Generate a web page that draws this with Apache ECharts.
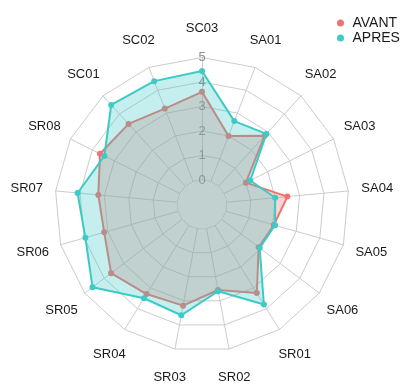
<!DOCTYPE html>
<html>
<head>
<meta charset="utf-8">
<script src="https://cdn.jsdelivr.net/npm/echarts@6/dist/echarts.min.js"></script>
<style>
  html, body { margin: 0; padding: 0; background: #fff; }
  #chart { width: 409px; height: 385px; }
</style>
</head>
<body>
<div id="chart"></div>
<script>
// Axes, listed clockwise starting from the top
const categories = ['SC03', 'SA01', 'SA02', 'SA03', 'SA04', 'SA05', 'SA06', 'SR01', 'SR02',
                    'SR03', 'SR04', 'SR05', 'SR06', 'SR07', 'SR08', 'SC01', 'SC02'];
// Mean scores per axis, same order as categories
const avant = [3.6, 2.0, 2.8, 1.0, 2.5, 2.05, 1.9, 3.25, 2.55, 3.2, 3.3, 3.65, 3.15, 3.25, 3.65, 3.45, 3.2];
const apres = [4.45, 2.65, 2.9, 1.2, 2.0, 2.1, 1.95, 3.8, 2.6, 3.6, 3.5, 4.6, 3.95, 4.1, 3.45, 4.5, 4.4];
const tickLabels = ['0', '1', '2', '3', '4', '5'];
const seriesNames = ['AVANT', 'APRES'];

const RED = '#F0736E';
const CYAN = '#3CCBC6';
const GRID = '#CCCCCC';
const FONT = '"Liberation Sans", Arial, sans-serif';
const center = [202, 204.5];
const radius = 147;

// ECharts lays radar indicators out counter-clockwise; reorder so they run clockwise.
const clockwise = a => [a[0]].concat(a.slice(1).reverse());
const cats = clockwise(categories);
const indicators = cats.map(n => ({ name: n, min: -1, max: 5 }));

const chart = echarts.init(document.getElementById('chart'), null, { renderer: 'canvas' });

chart.setOption({
  animation: false,
  backgroundColor: '#fff',
  legend: {
    data: seriesNames,
    orient: 'vertical',
    left: 337,
    top: 16,
    padding: 0,
    itemGap: 1,
    icon: 'circle',
    itemWidth: 14,
    itemHeight: 7,
    textStyle: { fontSize: 14, color: '#1a1a1a', fontFamily: FONT }
  },
  radar: [
    { // polygon grid, spokes and axis names
      center: center,
      radius: radius,
      startAngle: 90,
      shape: 'polygon',
      splitNumber: 6,
      indicator: indicators,
      z: 0,
      nameGap: 29,
      axisName: { color: '#1a1a1a', fontSize: 13, fontFamily: FONT, align: 'center', verticalAlign: 'middle' },
      splitLine: { lineStyle: { color: GRID, width: 1 } },
      splitArea: { show: false },
      axisLine: { lineStyle: { color: GRID, width: 1 } },
      axisTick: { show: false },
      axisLabel: { show: false }
    },
    { // scale labels along the top axis
      center: center,
      radius: radius,
      startAngle: 90,
      splitNumber: 6,
      indicator: [{ name: '', min: -1, max: 5 }],
      z: 1.5,
      axisName: { show: false },
      splitLine: { show: false },
      splitArea: { show: false },
      axisLine: { show: false },
      axisTick: { show: false },
      axisLabel: {
        show: true, margin: 0, align: 'center', verticalAlign: 'middle',
        color: '#8c8c8c', fontSize: 13, fontFamily: FONT,
        formatter: v => (v >= 0 ? tickLabels[Math.round(v)] : '')
      }
    }
  ],
  series: [
    { // inner hole at the zero ring
      type: 'radar', radarIndex: 0, z: 1, silent: true, symbol: 'none',
      lineStyle: { color: GRID, width: 1 },
      areaStyle: { color: '#fff', opacity: 1 },
      data: [{ value: cats.map(() => 0) }]
    },
    {
      type: 'radar', name: seriesNames[0], radarIndex: 0, z: 2,
      symbol: 'circle', symbolSize: 6,
      itemStyle: { color: RED },
      lineStyle: { color: RED, width: 2 },
      areaStyle: { color: RED, opacity: 0.3 },
      data: [{ name: seriesNames[0], value: clockwise(avant) }]
    },
    { // drawn on a higher layer so its fill tints the AVANT outline
      type: 'radar', name: seriesNames[1], radarIndex: 0, z: 3,
      symbol: 'circle', symbolSize: 6,
      itemStyle: { color: CYAN },
      lineStyle: { color: CYAN, width: 2 },
      areaStyle: { color: CYAN, opacity: 0.3 },
      data: [{ name: seriesNames[1], value: clockwise(apres) }]
    }
  ]
});
</script>
</body>
</html>
